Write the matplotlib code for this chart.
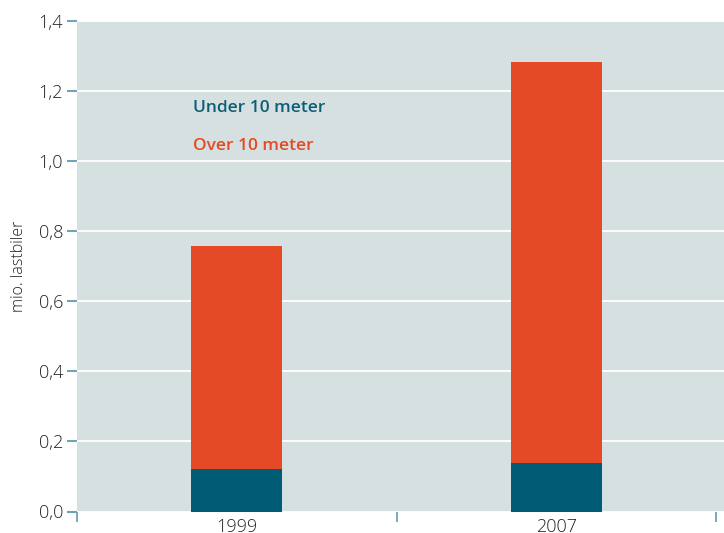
import matplotlib
matplotlib.use("Agg")
import matplotlib.pyplot as plt
import numpy as np

years = ["1999", "2007"]
under_10 = [0.121, 0.139]
over_10 = [0.637, 1.144]
yticks = [0.0, 0.2, 0.4, 0.6, 0.8, 1.0, 1.2, 1.4]
ytick_labels = ["0,0", "0,2", "0,4", "0,6", "0,8", "1,0", "1,2", "1,4"]

teal = "#005b75"
orange = "#e34a25"
bg = "#d6e0e1"
tickc = "#6fa3b8"

plt.rcParams['font.family'] = ['Open Sans', 'DejaVu Sans']

fig = plt.figure(figsize=(7.24, 5.33), dpi=100)
ax = fig.add_axes([77/724, 21.5/533, 647/724, 490.5/533])
ax.set_facecolor(bg)
x = np.arange(len(years))
w = 0.285
ax.bar(x, under_10, width=w, color=teal, zorder=3)
ax.bar(x, over_10, width=w, bottom=under_10, color=orange, zorder=3)

ax.set_xlim(-0.5, 1.525)
ax.set_ylim(0, 1.4)
ax.set_yticks(yticks)
ax.set_yticklabels(ytick_labels, fontsize=13, color="#222222", fontweight='light')
ax.yaxis.grid(True, color="white", linewidth=1.3, zorder=1)
ax.set_axisbelow(True)
for s in ax.spines.values():
    s.set_visible(False)
ax.tick_params(axis='y', length=7, width=1.5, color=tickc, pad=3)

ax.set_xticks(x)
ax.set_xticklabels(years, fontsize=13, color="#222222", fontweight='light')
ax.tick_params(axis='x', which='major', length=0, pad=5)
ax.set_xticks([-0.5, 0.5, 1.5], minor=True)
ax.tick_params(axis='x', which='minor', length=7, width=1.3, color=tickc)

ax.set_ylabel("mio. lastbiler", fontsize=11.5, color="#222222", labelpad=8, fontweight='light')

ax.text(0.179, 0.823, "Under 10 meter", transform=ax.transAxes, color="#0c5e78",
        fontsize=12.5, fontweight='semibold', va='center', ha='left')
ax.text(0.179, 0.745, "Over 10 meter", transform=ax.transAxes, color=orange,
        fontsize=12.5, fontweight='semibold', va='center', ha='left')

fig.savefig("out.png", dpi=100)
